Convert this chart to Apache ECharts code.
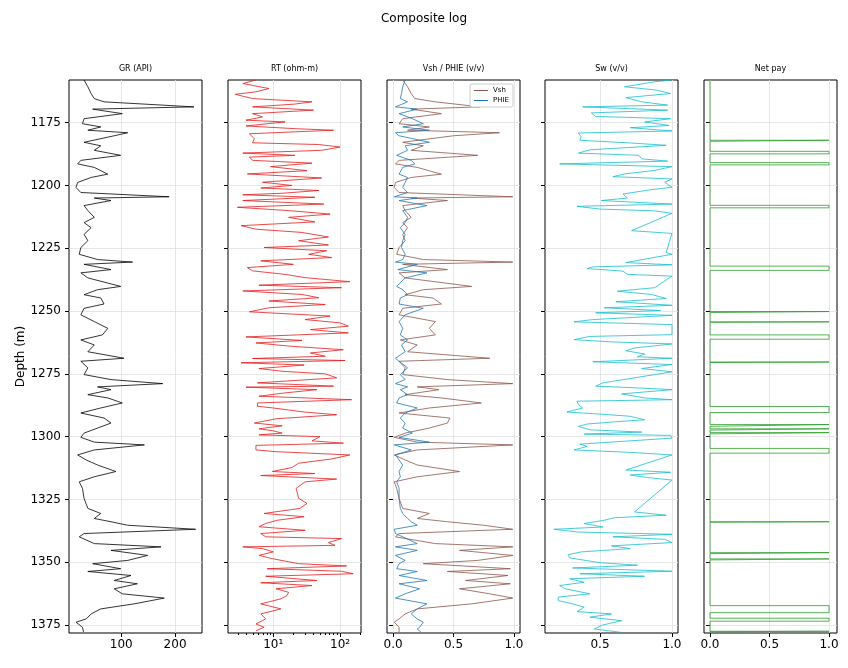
<!DOCTYPE html>
<html><head><meta charset="utf-8">
<script src="https://cdn.jsdelivr.net/npm/echarts@6/dist/echarts.min.js"></script>
<style>html,body{margin:0;padding:0;background:#fff}#c{width:848px;height:668px}</style>
</head><body><div id="c"></div>
<script>
// depth / GR / Vsh / PHIE samples
const depthA = [1158,1160.7,1163.4,1165.4,1166.7,1168.7,1169.6,1171.4,1173.4,1175.4,1176.7,1178,1179,1180.2,1182.8,1184.2,1186,1188,1190,1191.4,1192.8,1195.5,1196.8,1198.8,1200.8,1202.8,1204.5,1205,1206,1208,1210,1212.7,1214.8,1216.8,1219.5,1222,1224.7,1227.4,1229.5,1230.5,1231.4,1233.5,1234.8,1236.8,1240.2,1241.5,1243.5,1244.8,1247.2,1248.9,1251.5,1254.2,1256.9,1259.5,1261.5,1263.5,1266.2,1268.8,1270,1272.6,1275.3,1277.3,1278.9,1280.2,1281.3,1283.3,1284.6,1286.6,1288.6,1290.6,1292.6,1294.6,1296.6,1298.6,1300.3,1302.2,1303.3,1305.3,1307.3,1309.3,1311.3,1313.9,1316,1318,1320.6,1324.6,1328.6,1330.6,1332.6,1333.9,1335.3,1336.9,1338.6,1339.9,1342.6,1343.9,1345.3,1347.3,1349.3,1350.6,1352.6,1353.7,1355.3,1357.3,1358.6,1360.6,1362.6,1364.3,1366.6,1368.6,1370.6,1372.6,1373.9,1375.9,1376.6,1377.8];
const grVals = [31,38,44,50,68,235,47,102,31,28,62,38,112,87,31,62,50,99,25,19,50,75,44,19,16,25,189,50,81,31,38,50,31,44,31,38,25,22,56,121,31,81,25,38,99,56,31,62,68,31,25,50,75,65,25,50,38,105,25,38,31,81,177,56,81,38,75,102,62,25,68,81,56,31,25,50,143,50,19,35,56,90,50,22,28,31,38,62,50,81,112,238,31,22,50,174,81,149,112,47,99,38,118,87,130,87,102,180,124,62,44,35,16,28,31,30];
const vshVals = [0.08,0.12,0.15,0.18,0.35,0.72,0.15,0.4,0.08,0.05,0.3,0.12,0.88,0.5,0.08,0.25,0.15,0.7,0.05,0.02,0.2,0.4,0.15,0.02,0.01,0.05,0.99,0.15,0.45,0.08,0.1,0.15,0.08,0.12,0.08,0.1,0.05,0.03,0.25,0.99,0.08,0.45,0.05,0.1,0.65,0.25,0.1,0.33,0.4,0.08,0.05,0.35,0.3,0.35,0.06,0.2,0.12,0.8,0.05,0.1,0.08,0.45,0.99,0.2,0.38,0.1,0.4,0.73,0.3,0.05,0.47,0.45,0.3,0.1,0.01,0.2,0.99,0.2,0.01,0.1,0.2,0.55,0.2,0.01,0.03,0.05,0.08,0.3,0.2,0.45,0.75,0.99,0.05,0.02,0.35,0.99,0.55,0.99,0.7,0.25,0.97,0.45,0.95,0.6,0.97,0.55,0.8,0.99,0.65,0.2,0.1,0.05,0.01,0.05,0.06,0.05];
const phieVals = [0.10,0.08,0.07,0.06,0.12,0.02,0.2,0.05,0.16,0.25,0.08,0.3,0.02,0.05,0.3,0.1,0.12,0.03,0.15,0.18,0.08,0.05,0.12,0.1,0.08,0.12,0.01,0.2,0.05,0.28,0.08,0.12,0.1,0.06,0.1,0.08,0.07,0.1,0.08,0.02,0.2,0.04,0.28,0.1,0.03,0.08,0.12,0.06,0.05,0.25,0.1,0.05,0.08,0.06,0.12,0.07,0.1,0.02,0.05,0.12,0.06,0.1,0.02,0.12,0.06,0.12,0.05,0.03,0.2,0.1,0.06,0.1,0.08,0.16,0.05,0.3,0.01,0.15,0.02,0.05,0.08,0.05,0.06,0.03,0.05,0.05,0.06,0.08,0.12,0.15,0.2,0.01,0.02,0.08,0.2,0.02,0.2,0.02,0.1,0.05,0.03,0.2,0.05,0.28,0.05,0.22,0.1,0.02,0.28,0.2,0.15,0.2,0.25,0.22,0.2,0.23];
// RT samples
const depthRT = [1158,1159.4,1161.4,1162.7,1163.7,1165.4,1166.7,1167.6,1168.7,1170,1171.4,1172.7,1174,1174.7,1176.3,1177.4,1178,1179.4,1181.4,1183,1183.7,1184.7,1186,1187.1,1188,1188.7,1190,1191.1,1192.5,1194.1,1195.4,1197,1198.7,1200,1201,1202,1203.1,1203.7,1204.7,1206,1207.4,1208.7,1210,1211.4,1212.7,1214.5,1216,1217.4,1218.7,1220.5,1222,1223.7,1224.7,1226,1227.4,1228.7,1230,1231.4,1232.7,1234,1235.4,1236.7,1238.3,1239.7,1240.7,1242,1243.4,1244.7,1246,1247.4,1248.7,1250.3,1252,1253.4,1254.7,1256,1257.4,1258.7,1260.3,1261.7,1262.7,1264,1265.4,1266.7,1268,1268.9,1269.7,1270.6,1271.5,1272.9,1274,1275,1276.6,1278.6,1279.9,1280.3,1281.3,1282.6,1283.9,1285.3,1286.6,1287.9,1288.6,1290.2,1291.3,1292.9,1294.6,1295.7,1296.9,1297.7,1298.6,1299.3,1300,1301.7,1302.6,1303.5,1305.3,1306,1307.3,1308.9,1310.6,1312.3,1313.9,1314.7,1315.5,1316.9,1318,1320.6,1324.6,1326.6,1328.6,1330.6,1331.9,1333.3,1334.6,1335.9,1337.3,1338.6,1339.9,1340.6,1342.2,1343.3,1343.9,1344.6,1345.9,1347.3,1348.6,1350.6,1351.5,1352.6,1353.6,1354.6,1355.6,1357.3,1358.2,1359.3,1360.6,1362,1363.3,1364.6,1366.6,1368.6,1370.6,1372.6,1374.6,1375.9,1377.3];
const rtVals = [5.5,3.5,8.6,5.5,2.7,4.9,38,21,4.9,40,4.9,6.9,3.9,15,3.9,22,80,4.4,5.2,4.9,48,100,53,3.5,21,4.4,4.9,38,9.1,32,4.1,53,6.9,19,6.5,48,13.6,3.5,42,3.5,57,2.9,17,71,17,42,3.3,5.5,27,67,24,67,7.3,63,34,75,6.5,20,4.1,4.9,15,30,140,6.1,105,3.5,27,48,8.6,60,8.6,4.4,71,30,100,133,36,133,3.9,27,5.5,18,112,36,60,4.9,119,3.3,29,6.1,14,60,89,5.8,80,3.9,45,15,6.1,149,5.8,5.8,10,29,89,11,5.2,13.6,6.1,10,13.6,6.1,50,38,112,5.5,5.5,11,140,75,24,19,9.7,42,6.5,89,30,22,24,32,25,7.3,29,11.5,7.7,6.1,30,6.5,7.7,105,67,84,3.5,6.9,10,6.1,9.7,24,125,8.1,105,157,7.7,45,6.5,38,11,17,16,13,6.5,13,6.5,7.7,5.5,7.3,5.5];
// Sw samples
const depthSW = [1158,1158.7,1160.7,1162,1163.4,1165,1166.7,1168,1168.7,1170,1171.1,1172.5,1173.4,1174.7,1176.1,1177,1178.3,1179.1,1180.7,1182,1183.1,1184,1185.8,1187.1,1188,1189.4,1190.3,1191.4,1192.5,1194,1195.4,1196.5,1197.4,1198.7,1200.7,1201.8,1203.4,1205,1206,1207.4,1208.3,1209.4,1210.1,1211.1,1218,1219.1,1226.7,1227.4,1230.7,1231.6,1232.4,1233.1,1234.1,1235.4,1236.1,1240.7,1242.1,1243.4,1245,1246.3,1247.7,1248.7,1249.8,1250.7,1251.7,1253.4,1254.3,1255.4,1259.4,1260.1,1261.4,1262.3,1263.1,1264.7,1265.8,1267.1,1268.2,1268.8,1270.2,1271.3,1272.9,1274.2,1278.6,1279.9,1280.6,1281.3,1283,1284.6,1285.3,1285.9,1287.3,1288.6,1290.2,1291,1291.9,1293.3,1294.2,1295,1295.9,1297.3,1298.2,1299,1299.5,1300.6,1303,1303.9,1305.3,1306.3,1307.3,1313.3,1314.2,1315.3,1316.3,1317.3,1330,1331.3,1332.3,1333.3,1334.6,1336,1336.9,1338,1338.9,1339.9,1340.9,1342.2,1343.5,1344.6,1345.9,1347,1348.3,1350.2,1351.2,1352.3,1353.6,1354.6,1355.6,1356.6,1358,1359.3,1360.6,1362.6,1363.9,1365.3,1366.6,1367.9,1369.7,1370.6,1371.9,1373.3,1375,1376.6,1377.9];
const swVals = [1.0,0.88,0.67,0.89,0.99,0.68,0.79,0.97,0.38,0.97,0.44,0.47,0.99,0.81,0.98,0.71,1.0,0.35,0.37,0.36,0.72,0.96,0.43,0.35,0.77,0.79,0.97,0.22,1.0,0.88,0.67,0.59,1.0,0.95,1.0,0.84,0.66,0.69,0.51,1.0,0.34,0.5,0.88,1.0,0.72,1.0,0.96,1.0,0.68,1.0,0.45,0.41,0.66,0.69,1.0,0.88,0.62,0.86,0.96,0.61,1.0,0.53,0.92,0.47,1.0,0.45,0.32,1.0,1.0,0.43,0.32,0.59,1.0,0.74,0.68,0.81,0.76,1.0,0.45,1.0,0.79,1.0,0.52,0.47,0.76,1.0,0.65,0.81,1.0,0.34,0.35,0.38,0.27,0.49,0.71,0.81,0.58,0.41,0.35,0.43,0.79,0.39,0.99,1.0,0.36,0.41,0.32,0.72,1.0,0.68,0.99,0.71,0.83,1.0,0.74,0.96,0.6,0.53,0.39,0.52,0.18,0.35,1.0,0.59,0.95,1.0,0.58,0.71,0.37,0.28,0.29,0.5,0.76,0.31,1.0,0.36,0.81,0.29,0.39,0.22,0.26,0.43,0.21,0.21,0.31,0.39,0.34,0.58,0.43,0.65,0.52,0.46,0.64];
// Net pay intervals (top, bottom)
const payTop = [1182.0,1186.4,1190.9,1207.9,1232.1,1250.2,1254.3,1259.5,1270.3,1288.0,1295.2,1296.9,1298.4,1304.7,1333.9,1346.2,1348.7,1367.3,1372.3,1377.5];
const payBot = [1182.4,1187.4,1191.8,1208.9,1233.8,1250.6,1254.5,1261.2,1270.5,1290.4,1295.9,1297.4,1298.9,1306.6,1334.1,1346.6,1349.1,1370.1,1373.5,1377.7];
const depthTicks = [1175,1200,1225,1250,1275,1300,1325,1350,1375];
const titles = ['GR (API)','RT (ohm-m)','Vsh / PHIE (v/v)','Sw (v/v)','Net pay'];

const pair = (xs, ds) => xs.map((v,i)=>[v, ds[i]]);
const netData = [[0,1158]];
payTop.forEach((t,i)=>{netData.push([0,t],[1,t],[1,payBot[i]],[0,payBot[i]]);});
netData.push([0,1378.2]);

const lefts=[69,228,387,545,704];
const grid = lefts.map(l=>({left:l,top:80,width:133,height:553,show:true,borderColor:'#000',borderWidth:1}));
const sup = {10:'10¹',100:'10²'};
const xSpecs = [
  {type:'value',min:3,max:250,vals:[100,200],fmt:v=>String(v)},
  {type:'log',min:2.1,max:206,vals:[10,100],fmt:v=>sup[v]||''},
  {type:'value',min:-0.05,max:1.05,vals:[0,0.5,1],fmt:v=>v.toFixed(1)},
  {type:'value',min:0.118,max:1.042,vals:[0.5,1],fmt:v=>v.toFixed(1)},
  {type:'value',min:-0.05,max:1.067,vals:[0,0.5,1],fmt:v=>v.toFixed(1)}
];
const xAxis = xSpecs.map((s,i)=>({type:s.type,gridIndex:i,min:s.min,max:s.max,logBase:10,
  axisLine:{show:false},
  axisTick:{show:true,customValues:s.vals,length:4,lineStyle:{color:'#000'}},
  axisLabel:{customValues:s.vals,formatter:s.fmt,color:'#000',fontSize:12,margin:6,fontFamily:'DejaVu Sans'},
  splitLine:{show:true,lineStyle:{color:'#e0e0e0',width:0.8}},
  minorTick:{show:i===1,splitNumber:9,length:2,lineStyle:{color:'#000'}}
}));
const yAxis = lefts.map((l,i)=>({type:'value',gridIndex:i,min:1158,max:1378.2,inverse:true,
  name:i===0?'Depth (m)':'',nameLocation:'middle',nameGap:42,nameRotate:90,
  nameTextStyle:{color:'#000',fontSize:12,fontFamily:'DejaVu Sans'},
  axisLine:{show:false},
  axisTick:{show:true,customValues:depthTicks,length:4,lineStyle:{color:'#000'}},
  axisLabel:{show:i===0,customValues:depthTicks,formatter:v=>String(v),color:'#000',fontSize:12,fontFamily:'DejaVu Sans'},
  splitLine:{show:true,lineStyle:{color:'#e0e0e0',width:0.8}}
}));
const ln = (name,i,data,color)=>({name,type:'line',xAxisIndex:i,yAxisIndex:i,data,showSymbol:false,symbol:'none',
  lineStyle:{color,width:0.8},itemStyle:{color},animation:false,silent:true});
const series = [
  ln('GR',0,pair(grVals,depthA),'#000'),
  ln('RT',1,pair(rtVals,depthRT),'#e41a1c'),
  ln('Vsh',2,pair(vshVals,depthA),'#8c564b'),
  ln('PHIE',2,pair(phieVals,depthA),'#1f77b4'),
  ln('Sw',3,pair(swVals,depthSW),'#17becf'),
  ln('Net',4,netData,'#2ca02c')
];
const chart = echarts.init(document.getElementById('c'));
chart.setOption({
  animation:false,
  title:{text:'Composite log',left:'center',top:8,textStyle:{fontSize:12,fontWeight:'normal',color:'#000',fontFamily:'DejaVu Sans'}},
  grid, xAxis, yAxis, series,
  legend:{data:['Vsh','PHIE'],orient:'vertical',left:470,top:84,padding:[3,4],itemGap:3,itemWidth:14,itemHeight:1,icon:'rect',
    borderColor:'#ccc',borderWidth:1,borderRadius:2,backgroundColor:'#fff',textStyle:{fontSize:7,color:'#000',fontFamily:'DejaVu Sans'}},
  graphic: titles.map((t,i)=>({type:'text',x:lefts[i]+66.5,y:65,style:{text:t,fontSize:8,fill:'#000',textAlign:'center',fontFamily:'DejaVu Sans'}}))
});
</script></body></html>
